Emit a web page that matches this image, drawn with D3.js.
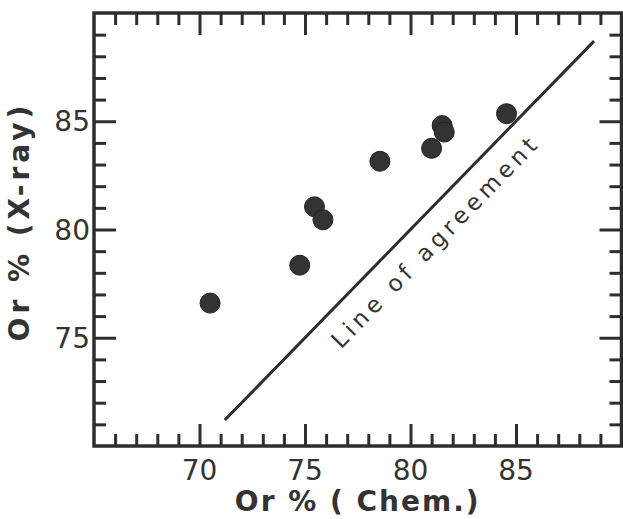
<!DOCTYPE html>
<html lang="en">
<head>
  <meta charset="utf-8">
  <script src="https://d3js.org/d3.v7.min.js"></script>
  <style>
    body { margin: 0; background: #fff; }
    svg { display: block; }
    text { font-family: "DejaVu Sans", sans-serif; fill: #333; }
  </style>
</head>
<body>
  <svg width="623" height="519"></svg>
  <script>
    // values
    const chem = [70.5, 74.75, 75.45, 75.85, 78.55, 81.0, 81.5, 81.6, 84.55];
    const xray = [76.6, 78.35, 81.05, 80.45, 83.15, 83.75, 84.8, 84.5, 85.35];
    const xMajor = [70, 75, 80, 85];
    const yMajor = [75, 80, 85];
    const agreement = [71.2, 88.7];
    const lineLabel = "Line of agreement";

    const ink = "#2e2e2e";
    const svg = d3.select("svg");

    const x = d3.scaleLinear().domain([65, 90]).range([94, 621.5]);
    const y = d3.scaleLinear().domain([70, 90]).range([446, 13]);

    const minorX = d3.range(66, 90);
    const minorY = d3.range(71, 90);

    // inward ticks, longer at the majors
    function styleTicks(g, majors, sign, horiz) {
      g.select(".domain").remove();
      g.selectAll(".tick line")
        .attr("stroke", ink)
        .attr("stroke-width", 3)
        .attr(horiz ? "y2" : "x2", d => sign * (majors.includes(d) ? 22 : 12));
      g.selectAll(".tick text").remove();
    }

    svg.append("g")
      .attr("transform", `translate(0,${y(70)})`)
      .call(d3.axisBottom(x).tickValues(minorX).tickSize(0))
      .call(g => styleTicks(g, xMajor, -1, true));

    svg.append("g")
      .attr("transform", `translate(0,${y(90)})`)
      .call(d3.axisTop(x).tickValues(minorX).tickSize(0))
      .call(g => styleTicks(g, xMajor, 1, true));

    svg.append("g")
      .attr("transform", `translate(${x(65)},0)`)
      .call(d3.axisLeft(y).tickValues(minorY).tickSize(0))
      .call(g => styleTicks(g, yMajor, 1, false));

    svg.append("g")
      .attr("transform", `translate(${x(90)},0)`)
      .call(d3.axisRight(y).tickValues(minorY).tickSize(0))
      .call(g => styleTicks(g, yMajor, -1, false));

    // frame
    svg.append("rect")
      .attr("x", x(65)).attr("y", y(90))
      .attr("width", x(90) - x(65)).attr("height", y(70) - y(90))
      .attr("fill", "none").attr("stroke", ink).attr("stroke-width", 3.5);

    // tick labels
    svg.append("g").selectAll("text")
      .data(xMajor)
      .join("text")
      .attr("x", d => x(d))
      .attr("y", 480)
      .attr("text-anchor", "middle")
      .attr("font-size", 28)
      .text(d => d);

    svg.append("g").selectAll("text")
      .data(yMajor)
      .join("text")
      .attr("x", 90)
      .attr("y", d => y(d))
      .attr("dy", "0.36em")
      .attr("text-anchor", "end")
      .attr("font-size", 28)
      .text(d => d);

    // axis titles
    svg.append("text")
      .attr("x", (x(65) + x(90)) / 2)
      .attr("y", 511)
      .attr("text-anchor", "middle")
      .attr("font-size", 28)
      .attr("font-weight", "bold")
      .attr("letter-spacing", 2)
      .text("Or % ( Chem.)");

    svg.append("text")
      .attr("transform", `translate(29,${(y(70) + y(90)) / 2 - 8}) rotate(-90)`)
      .attr("text-anchor", "middle")
      .attr("font-size", 28)
      .attr("font-weight", "bold")
      .attr("letter-spacing", 4)
      .text("Or % (X-ray)");

    // line of agreement
    svg.append("line")
      .attr("x1", x(agreement[0])).attr("y1", y(agreement[0]))
      .attr("x2", x(agreement[1])).attr("y2", y(agreement[1]))
      .attr("stroke", ink).attr("stroke-width", 3);

    const angle = Math.atan2(y(agreement[1]) - y(agreement[0]), x(agreement[1]) - x(agreement[0])) * 180 / Math.PI;
    svg.append("text")
      .attr("transform", `translate(${x(80.3)},${y(80.3)}) rotate(${angle})`)
      .attr("dy", 34)
      .attr("text-anchor", "middle")
      .attr("font-size", 23)
      .attr("letter-spacing", 4.5)
      .text(lineLabel);

    // points
    svg.append("g").selectAll("circle")
      .data(chem)
      .join("circle")
      .attr("cx", d => x(d))
      .attr("cy", (d, i) => y(xray[i]))
      .attr("r", 10)
      .attr("fill", "#333")
      .attr("stroke", "#222")
      .attr("stroke-width", 1);
  </script>
</body>
</html>
